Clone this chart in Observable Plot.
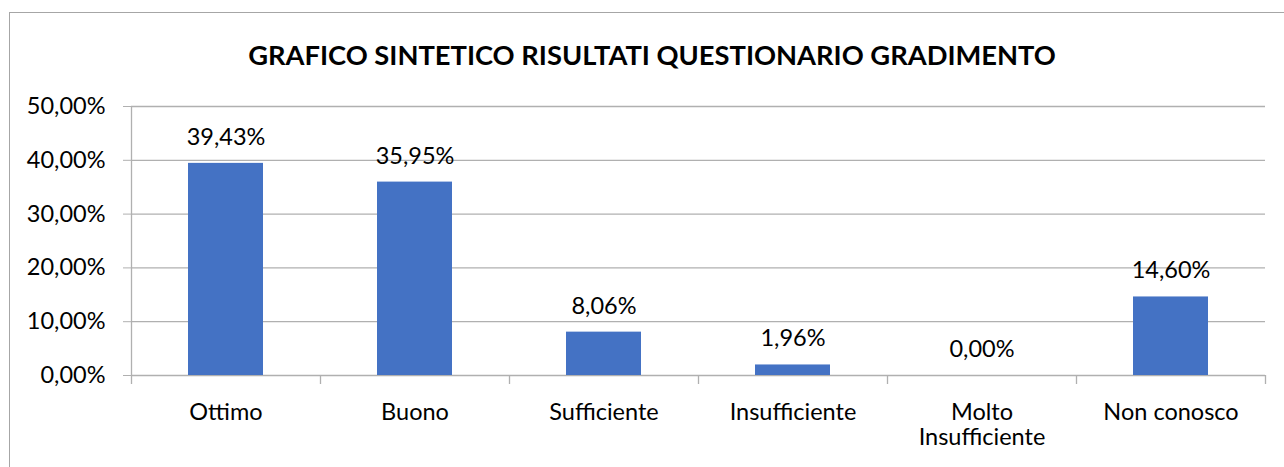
<!DOCTYPE html>
<html>
<head>
<meta charset="utf-8">
<script src="https://cdn.jsdelivr.net/npm/d3@7"></script>
<script src="https://cdn.jsdelivr.net/npm/@observablehq/plot@0.6"></script>
<style>
  html, body { margin: 0; padding: 0; background: #fff; overflow: hidden; }
  #wrap { position: relative; width: 1284px; height: 467px; overflow: hidden; }
  #border { position: absolute; left: 9px; top: 12px; width: 1320px; height: 500px; border: 1.5px solid #a6a6a6; box-sizing: border-box; }
  #title { position: absolute; left: 10px; width: 1284px; top: 38px; text-align: center;
           font-family: Lato, sans-serif; font-weight: bold; font-size: 27.3px; color: #000; line-height: 34px; }
  #chart { position: absolute; left: 0; top: 0; }
</style>
</head>
<body>
<div id="wrap">
  <div id="border"></div>
  <div id="title">GRAFICO SINTETICO RISULTATI QUESTIONARIO GRADIMENTO</div>
  <div id="chart"></div>
</div>
<script>
const categories = ["Ottimo", "Buono", "Sufficiente", "Insufficiente", "Molto Insufficiente", "Non conosco"];
const values = [39.43, 35.95, 8.06, 1.96, 0.00, 14.60];
const yTicks = [0, 10, 20, 30, 40, 50];
const categoryLabels = ["Ottimo", "Buono", "Sufficiente", "Insufficiente", "Molto\nInsufficiente", "Non conosco"];

const data = categories.map((c, i) => ({category: c, value: values[i]}));
const fmt = v => v.toFixed(2).replace(".", ",") + "%";

const W = 1284, H = 467, mL = 131, mR = 19, mT = 106, mB = 92;
const step = (W - mL - mR) / categories.length;
const gridColor = "#b0b0b0";

const plot = Plot.plot({
  width: W,
  height: H,
  marginLeft: mL,
  marginRight: mR,
  marginTop: mT,
  marginBottom: mB,
  style: {fontFamily: "Lato, sans-serif", fontSize: "23.5px", color: "#000", background: "transparent", overflow: "visible"},
  x: {type: "band", domain: categories, padding: 0, label: null},
  y: {domain: [0, 50], label: null},
  marks: [
    Plot.ruleY(yTicks, {stroke: gridColor, strokeWidth: 1.3}),
    Plot.ruleX([categories[0]], {dx: -step / 2, stroke: gridColor, strokeWidth: 1.3, insetBottom: -9}),
    Plot.ruleX(categories, {dx: step / 2, y1: 0, y2: 0, insetBottom: -9, stroke: gridColor, strokeWidth: 1.3}),
    Plot.axisY({ticks: yTicks, tickSize: 8, tickPadding: 18, stroke: gridColor, tickFormat: fmt, fill: "#000", fontSize: "23.5px", label: null}),
    Plot.axisX({tickSize: 0, tickPadding: 26, tickFormat: (d) => categoryLabels[categories.indexOf(d)], fill: "#000", fontSize: "23.5px", lineHeight: 1.08, label: null}),
    Plot.barY(data, {x: "category", y: "value", fill: "#4472C4", insetLeft: 57, insetRight: 57}),
    Plot.text(data, {x: "category", y: "value", text: d => fmt(d.value), dy: -26, fill: "#000", fontSize: "23.5px"})
  ]
});
document.getElementById("chart").appendChild(plot);
</script>
</body>
</html>
